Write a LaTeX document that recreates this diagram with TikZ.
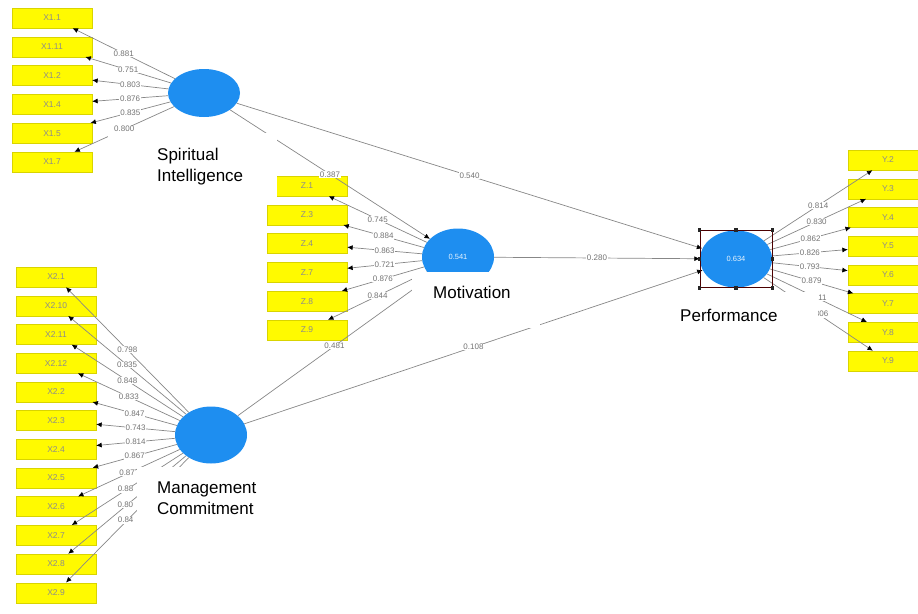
\documentclass[tikz,border=0pt]{standalone}
\usepackage{fontspec}
\setmainfont{Liberation Sans}
\usetikzlibrary{
    positioning,           % Relative positioning
    shapes.geometric,      % Ellipses
    arrows.meta,           % Modern arrow tips
    fit                    % Selection frame
}
\definecolor{lvblue}{RGB}{30,142,240}
\definecolor{indyellow}{RGB}{255,250,0}
\definecolor{pathgray}{RGB}{135,135,135}

\begin{document}
\begin{tikzpicture}[x=1pt,y=-1pt,
    lv/.style={ellipse,fill=lvblue,minimum width=72pt,minimum height=57pt,inner sep=0pt,
        text=white!90!lvblue,font=\fontsize{7.5}{8}\selectfont},
    ind/.style={rectangle,fill=indyellow,draw=indyellow!85!black,line width=0.3pt,
        minimum width=80pt,minimum height=20pt,inner sep=0pt,text=black!45,
        font=\fontsize{8.5}{9}\selectfont},
    load/.style={draw=pathgray,line width=0.7pt,-{Latex[black,length=5.5pt,width=5pt]}},
    coef/.style={midway,fill=white,inner sep=0.6pt,text=black!55,font=\fontsize{8}{9}\selectfont},
    cover/.style={fill=white},
    lvname/.style={anchor=north west,align=left,inner sep=0pt,font=\fontsize{17}{20.5}\selectfont}
]
\useasboundingbox (0,0) rectangle (918,613);

% latent variables
\node[lv,minimum height=48pt] (si) at (204,93) {};
\node[lv] (mot) at (458,257) {0.541};
\node[lv] (perf) at (736,259) {0.634};
\node[lv] (mc) at (211,435) {};

% indicators
\foreach \lbl [count=\i] in {X1.1,X1.11,X1.2,X1.4,X1.5,X1.7}
    \node[ind] (xa\i) at (52,{18+28.8*(\i-1)}) {\lbl};
\foreach \lbl [count=\i] in {X2.1,X2.10,X2.11,X2.12,X2.2,X2.3,X2.4,X2.5,X2.6,X2.7,X2.8,X2.9}
    \node[ind] (xb\i) at (56,{277+28.7*(\i-1)}) {\lbl};
\foreach \lbl [count=\i] in {Z.1,Z.3,Z.4,Z.7,Z.8,Z.9}
    \node[ind] (z\i) at (307,{186+28.8*(\i-1)}) {\lbl};
\foreach \lbl [count=\i] in {Y.2,Y.3,Y.4,Y.5,Y.6,Y.7,Y.8,Y.9}
    \node[ind] (y\i) at (888,{160+28.7*(\i-1)}) {\lbl};

% outer loadings
\foreach \v [count=\i] in {0.881,0.751,0.803,0.876,0.835,0.800}
    \draw[load] (si) -- (xa\i) node[coef] {\v};
\foreach \v [count=\i] in {0.798,0.835,0.848,0.833,0.847,0.743,0.814,0.867}
    \draw[load] (mc) -- (xb\i) node[coef] {\v};
\foreach \v [count=\i from 9] in {0.87,0.88,0.80,0.84}
    \draw[load] (mc) -- (xb\i) node[coef,anchor=east,xshift=7pt] {\v};
\foreach \v [count=\i] in {0.745,0.884,0.863,0.721,0.876,0.844}
    \draw[load] (mot) -- (z\i) node[coef] {\v};
\foreach \v [count=\i] in {0.814,0.830,0.862,0.826,0.793,0.879,0.811,0.806}
    \draw[load] (perf) -- (y\i) node[coef] {\v};

% path coefficients
\draw[load] (si) -- (mot) node[coef] {0.387};
\draw[load] (si) -- (perf) node[coef] {0.540};
\draw[load] (mot) -- (perf) node[coef] {0.280};
\draw[load] (mc) -- (mot) node[coef] {0.481};
\draw[load] (mc) -- (perf) node[coef] {0.108};

% selection frame
\node[draw=black!70!red,line width=0.5pt,fit=(perf),inner sep=0pt] (sel) {};
\foreach \a in {north west,north,north east,east,south east,south,south west,west}
    \fill[black!85] (sel.\a) ++(-1.8,-1.8) rectangle ++(3.6,3.6);

% names on white patches
\fill[cover] (108,133) rectangle (277,200);
\node[lvname] (silbl) at (157,148) {Spiritual\\Intelligence};
\fill[cover] (412,272) rectangle (540,328);
\node[lvname] (motlbl) at (433,286) {Motivation};
\fill[cover] (668,292) rectangle (818,330);
\node[lvname] (perflbl) at (680,309) {Performance};
\fill[cover] (137,467) rectangle (295,527);
\node[lvname] (mclbl) at (157,482) {Management\\Commitment};
\end{tikzpicture}
\end{document}
